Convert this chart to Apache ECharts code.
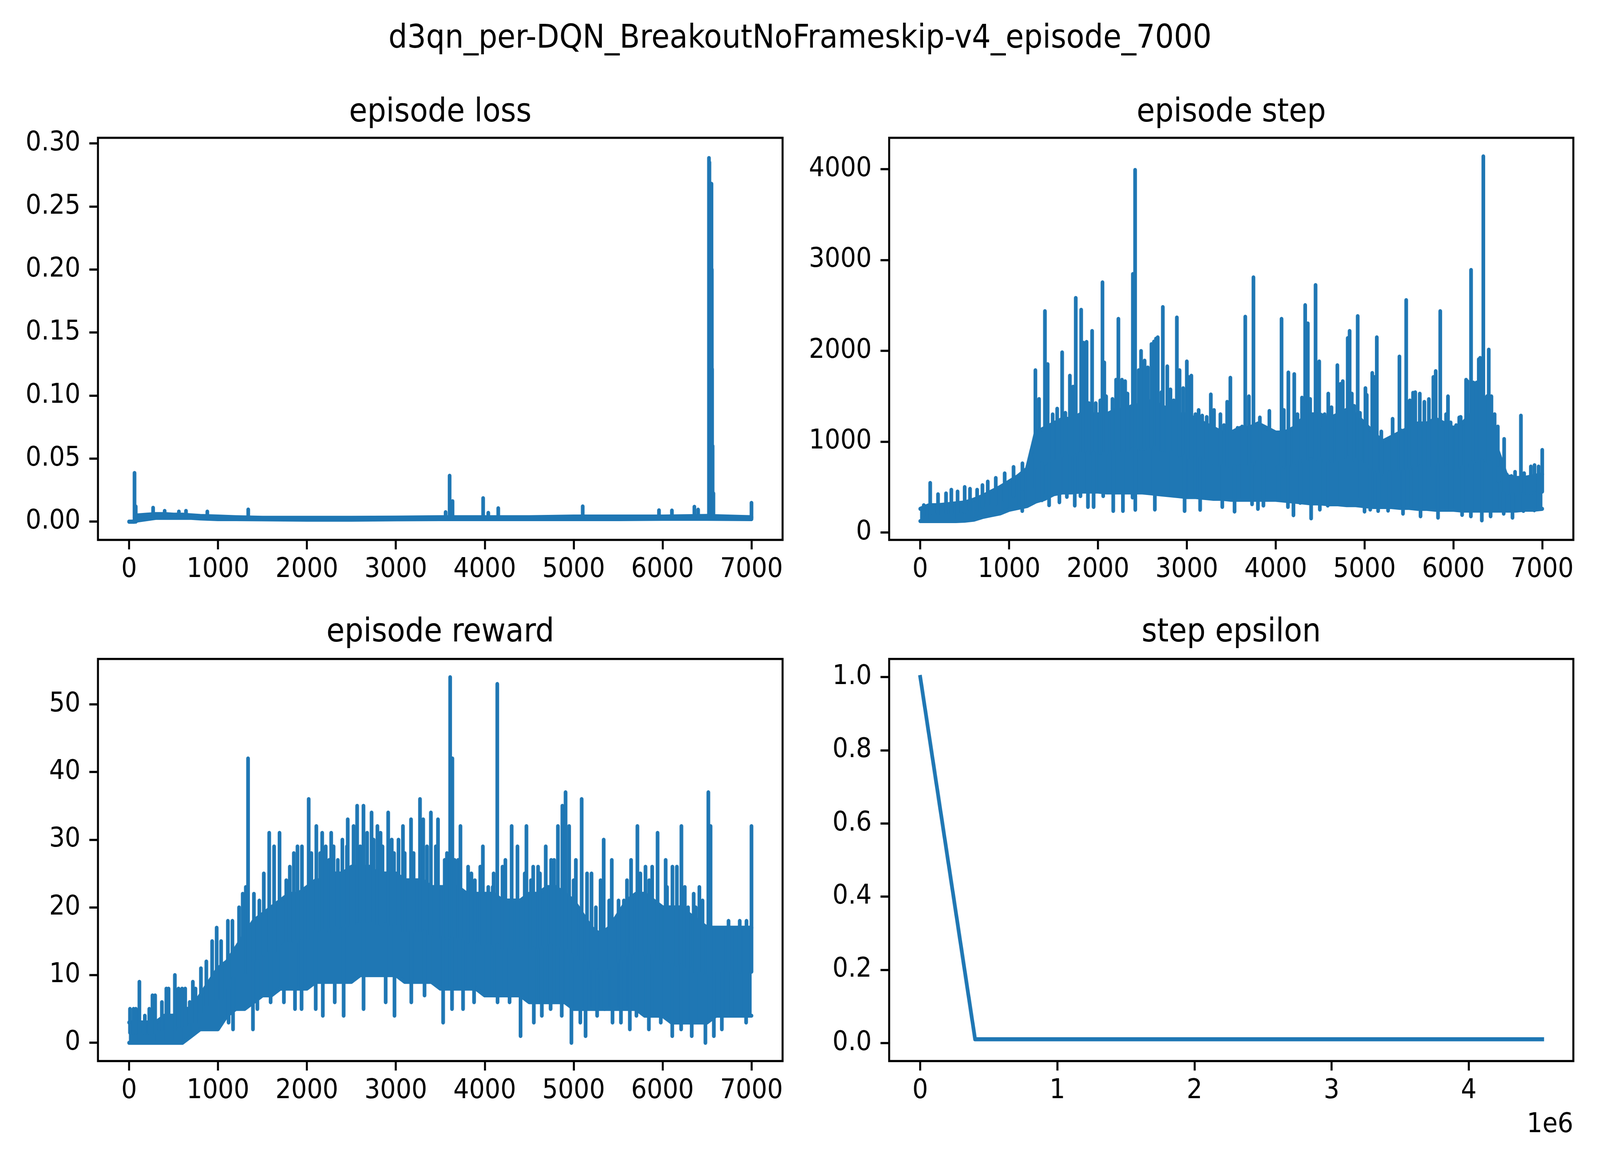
<!DOCTYPE html>
<html>
<head>
<meta charset="utf-8">
<script src="https://cdn.jsdelivr.net/npm/echarts@6/dist/echarts.min.js"></script>
<style>
  html, body { margin: 0; padding: 0; background: #fff; overflow: hidden; }
  #chart { width: 4500px; height: 3000px; transform-origin: 0 0; }
</style>
</head>
<body>
<div id="chart"></div>
<script>
// training curves, values

// episode bins (every 100 episodes, 0..7000)
var binEpisodes = Array.from({ length: 71 }, function (_, i) { return i * 100; });

// episode step: dense band edges per bin
var stepHigh = [260,300,300,310,320,330,360,400,450,500,560,620,700,
  1100,1150,1200,1250,1250,1300,1300,1300,
  1300,1350,1350,1400,1400,1450,1400,1350,1300,1300,
  1250,1200,1150,1100,1100,1150,1150,1200,1150,1100,
  1100,1150,1250,1300,1300,1250,1300,1350,1300,1200,
  1100,1000,1050,1100,1150,1200,1200,1250,1200,1150,
  1200,1300,1350,1300,900,620,600,600,620,640];
var stepLow = [125,125,125,125,125,130,140,170,190,210,250,270,290,
  340,370,420,440,440,450,450,450,
  440,440,440,440,440,430,420,410,400,390,
  390,380,370,370,360,360,360,360,360,360,
  350,340,330,320,320,310,310,300,300,290,
  280,280,280,270,270,260,260,250,250,250,
  240,240,240,240,240,240,240,250,250,260];
// single-episode peaks [episode, steps]
var stepPeaks = [[40,300],[112,545],[200,420],[290,430],[350,470],[420,450],[500,500],[560,480],[640,470],[700,520],
  [760,560],[850,600],[950,650],[1050,720],[1150,760],[1250,820],
  [1296,1785],[1337,1468],[1403,2436],[1434,1852],[1490,1300],[1541,1362],[1597,1982],[1633,1316],[1684,1725],
  [1720,1604],[1750,2581],[1811,2451],[1837,2088],[1872,2097],[1898,1422],[1934,2218],[1975,1422],[2026,1452],
  [2051,2753],[2071,1870],[2092,1498],[2163,1468],[2204,1680],[2230,2351],[2270,1680],[2306,1664],[2332,1528],
  [2383,1392],[2393,2844],[2418,3990],[2459,1785],[2485,1997],[2525,1891],[2561,1816],[2602,2073],[2630,2100],
  [2653,2133],[2673,2148],[2714,1543],[2730,2481],[2780,1828],[2816,1574],[2852,1452],[2888,2366],[2918,1785],
  [2959,1588],[3000,1882],[3020,1710],[3051,1725],[3097,1301],[3133,1347],[3173,1286],[3224,1271],[3270,1519],
  [3306,1347],[3378,1301],[3418,1180],[3454,1437],[3490,1703],[3571,1150],[3622,1165],[3658,2375],[3699,1498],
  [3750,2808],[3822,1265],[3888,1104],[3929,1337],[4015,1029],[4066,2351],[4092,1347],[4143,1761],[4209,1743],
  [4245,1301],[4296,1483],[4332,2502],[4362,2300],[4388,1468],[4449,2723],[4490,1882],[4526,1150],[4551,1301],
  [4592,1528],[4628,1377],[4694,1840],[4730,1634],[4755,1664],[4811,2139],[4832,2218],[4857,1528],[4883,1392],
  [4923,2381],[4949,1316],[5010,1588],[5025,1513],[5087,1755],[5112,1710],[5138,2148],[5189,1110],[5316,1250],
  [5393,1936],[5418,1120],[5469,2557],[5510,1452],[5546,1537],[5571,1543],[5622,1528],[5673,1437],[5724,1467],
  [5775,1710],[5801,1776],[5852,2436],[5918,1301],[5939,1498],[5969,1210],[6031,1180],[6066,1265],[6082,1271],
  [6143,1680],[6158,1664],[6199,2890],[6225,1649],[6260,1649],[6286,1906],[6301,1921],[6337,4140],[6378,1498],
  [6398,2012],[6428,1498],[6464,1301],[6500,1165],[6515,711],[6571,1029],[6602,636],[6653,620],[6694,666],
  [6760,1286],[6796,651],[6872,726],[6913,741],[6959,726],[7000,908]];
// single-episode drops [episode, steps]
var stepDrops = [[1148,237],[1369,355],[1450,300],[1566,333],[1650,392],[1739,296],[1803,400],[1887,281],
  [1951,281],[2059,400],[2172,237],[2281,237],[2389,385],[2420,250],[2640,252],[2823,415],[2975,237],
  [3094,415],[3150,250],[3192,385],[3399,281],[3537,230],[3734,311],[3800,260],[3862,296],[4029,370],
  [4138,281],[4200,190],[4276,326],[4399,155],[4497,252],[4586,296],[4818,415],[4906,385],[5000,230],
  [5064,252],[5153,237],[5265,240],[5286,281],[5433,207],[5557,281],[5630,178],[5827,163],[5926,252],
  [6098,193],[6197,178],[6320,133],[6419,178],[6566,207],[6665,163],[6788,237],[6911,244]];

// episode reward: dense band edges per bin
var rewardHigh = [3,3,3,3,4,4,5,5,7,9,11,12,14,
  16,18,19,20,21,22,22,23,
  24,24,25,25,26,26,26,25,25,25,
  24,24,24,23,23,23,23,22,22,22,
  22,21,21,21,22,22,23,23,22,21,
  19,17,16,17,19,21,22,22,21,20,
  20,20,19,18,17,17,17,17,17,17];
var rewardLow = [0,0,0,0,0,0,0,1,2,2,2,4,5,
  5,6,7,7,8,8,8,8,
  9,9,9,9,9,10,10,10,10,10,
  9,9,9,9,8,8,8,8,8,7,
  7,7,7,7,6,6,6,6,6,5,
  5,5,5,5,5,5,5,4,4,4,
  3,3,3,3,3,4,4,4,4,4];
var rewardPeaks = [[10,5],[50,5],[76,5],[116,9],[177,4],[227,5],[263,7],[293,7],[369,6],[419,8],[444,8],
  [515,10],[556,8],[596,8],[631,8],[682,6],[717,9],[747,8],[808,11],[869,12],[934,15],[985,17],[1035,15],
  [1111,18],[1162,18],[1237,20],[1278,22],[1313,23],[1338,42],[1404,22],[1465,21],[1515,25],[1576,31],
  [1631,29],[1692,31],[1768,24],[1808,26],[1853,28],[1894,29],[1944,29],[2020,36],[2050,28],[2106,32],
  [2150,28],[2172,31],[2212,29],[2250,27],[2273,31],[2300,29],[2348,27],[2399,30],[2450,29],[2459,33],
  [2525,32],[2565,35],[2600,29],[2636,35],[2677,31],[2727,34],[2750,30],[2793,32],[2828,31],[2850,29],
  [2914,34],[2954,30],[2980,28],[3030,30],[3080,32],[3100,28],[3171,33],[3200,28],[3272,36],[3308,33],
  [3350,29],[3394,34],[3450,29],[3474,33],[3550,27],[3575,28],[3611,54],[3636,42],[3661,27],[3700,27],
  [3727,32],[3813,26],[3850,25],[3889,24],[3950,26],[3979,29],[4040,23],[4090,23],[4100,25],[4141,53],
  [4200,26],[4232,27],[4303,32],[4368,29],[4450,25],[4469,32],[4520,24],[4545,26],[4600,26],[4621,25],
  [4686,29],[4747,27],[4780,27],[4823,32],[4873,35],[4909,37],[4949,32],[5000,24],[5025,27],[5090,36],
  [5151,25],[5201,25],[5250,20],[5303,24],[5338,30],[5400,21],[5429,27],[5505,21],[5565,21],[5600,24],
  [5646,27],[5717,32],[5750,25],[5808,26],[5850,24],[5883,26],[5944,31],[6035,27],[6050,23],[6111,26],
  [6161,26],[6212,32],[6250,23],[6287,20],[6350,22],[6373,20],[6414,23],[6450,21],[6515,37],[6540,32],
  [6742,18],[6868,18],[6944,18],[7000,32]];
var rewardDrops = [[1119,3],[1169,2],[1393,2],[1443,5],[1592,6],[1741,6],[1866,5],[1940,5],[2099,5],[2179,4],
  [2313,6],[2413,4],[2637,5],[2886,6],[2985,4],[3174,6],[3323,7],[3532,3],[3632,5],[3756,5],[3880,6],
  [4045,7],[4144,6],[4279,6],[4403,1],[4552,3],[4642,4],[4741,5],[4866,4],[4975,0],[5075,3],[5134,1],
  [5264,4],[5348,5],[5437,3],[5532,3],[5632,2],[5706,4],[5846,2],[5980,3],[6109,1],[6209,2],[6328,1],
  [6482,0],[6577,1],[6667,2],[6776,4],[6940,3]];

// episode loss: band edges (irregular bins) and spikes
var lossEpisodes = [0,55,100,200,300,400,500,600,700,800,1000,1200,1500,2000,2500,3000,3500,4000,4500,5000,5500,6000,6500,7000];
var lossHigh = [0,0,0.005,0.0055,0.006,0.006,0.0055,0.0055,0.005,0.0045,0.004,0.0035,0.003,0.003,0.003,0.0032,0.0035,0.0035,0.0035,0.004,0.004,0.004,0.0045,0.0035];
var lossLow = [0,0,0.001,0.002,0.003,0.003,0.003,0.003,0.003,0.0025,0.002,0.002,0.0018,0.0015,0.0015,0.0018,0.002,0.002,0.002,0.002,0.002,0.0022,0.0022,0.002];
var lossPeaks = [[61,0.0386],[75,0.012],[270,0.011],[400,0.0085],[560,0.008],[640,0.0085],[880,0.008],[1340,0.0096],
  [3560,0.0075],[3605,0.0364],[3638,0.0162],[3982,0.0186],[4040,0.007],[4152,0.0106],[5102,0.0121],[5960,0.009],
  [6105,0.0088],[6358,0.0118],[6400,0.0095],[6522,0.2885],[6527,0.285],[6550,0.268],[6554,0.2],[6557,0.121],
  [6563,0.06],[6572,0.0224],[7000,0.0149]];

// step epsilon: [total steps, epsilon]
var epsilonSteps = [0, 400000, 4536000];
var epsilonValues = [1.0, 0.01, 0.01];

// tick labels
var episodeTicks = [0,1000,2000,3000,4000,5000,6000,7000];
var lossTicks = [0,0.05,0.1,0.15,0.2,0.25,0.3];
var stepTicks = [0,1000,2000,3000,4000];
var rewardTicks = [0,10,20,30,40,50];
var epsilonTicks = [0,0.2,0.4,0.6,0.8,1.0];
var stepCountTicks = [0,1000000,2000000,3000000,4000000];

var BLUE = '#1f77b4';
var LW = 10.4;
var FONT = 'DejaVu Sans';
var TICK_FS = 69.4;
var TITLE_FS = 83.3;

var grids = [
  { left: 275.5, top: 352.7, width: 1925.5, height: 1029.3 },
  { left: 2500.7, top: 352.7, width: 1924.3, height: 1029.3 },
  { left: 275.5, top: 1686.7, width: 1925.5, height: 1029.3 },
  { left: 2500.7, top: 1686.7, width: 1924.3, height: 1029.3 }
];

// the viewport can be smaller than 4500x3000: stretch the figure onto it
var dom = document.getElementById('chart');
var sx = window.innerWidth / 4500, sy = window.innerHeight / 3000;
if (sx > 0 && sy > 0 && (Math.abs(sx - 1) > 0.001 || Math.abs(sy - 1) > 0.001)) {
  dom.style.transform = 'scale(' + sx + ',' + sy + ')';
}

function xAxis(gridIndex, min, max, ticks, fmt) {
  return {
    type: 'value', gridIndex: gridIndex, min: min, max: max,
    axisLine: { show: false, onZero: false }, splitLine: { show: false },
    axisTick: { show: true, inside: false, customValues: ticks, length: 24.3,
      lineStyle: { color: '#000', width: 5.6 } },
    axisLabel: { customValues: ticks, margin: 42, fontSize: TICK_FS, fontFamily: FONT,
      color: '#000', formatter: fmt }
  };
}
function yAxis(gridIndex, min, max, ticks, fmt) {
  return {
    type: 'value', gridIndex: gridIndex, min: min, max: max,
    axisLine: { show: false, onZero: false }, splitLine: { show: false },
    axisTick: { show: true, inside: false, customValues: ticks, length: 24.3,
      lineStyle: { color: '#000', width: 5.6 } },
    axisLabel: { customValues: ticks, margin: 49, fontSize: TICK_FS, fontFamily: FONT,
      color: '#000', formatter: fmt }
  };
}

function nearestIndex(eps, x) {
  var best = 0;
  for (var i = 1; i < eps.length; i++) {
    if (Math.abs(eps[i] - x) < Math.abs(eps[best] - x)) best = i;
  }
  return best;
}

// dense band: filled polygon between bins + thick edge lines
function bandSeries(g, eps, low, high) {
  var fill = {
    type: 'custom', xAxisIndex: g, yAxisIndex: g, silent: true, z: 2,
    data: eps.map(function (e, i) { return [e, low[i], high[i]]; }),
    encode: { x: 0, y: [1, 2] },
    renderItem: function (params, api) {
      var i = params.dataIndex;
      if (i >= eps.length - 1) return null;
      var pts = [
        api.coord([eps[i], low[i]]), api.coord([eps[i + 1], low[i + 1]]),
        api.coord([eps[i + 1], high[i + 1]]), api.coord([eps[i], high[i]])
      ];
      return { type: 'polygon', shape: { points: pts },
        style: { fill: BLUE, stroke: BLUE, lineWidth: 1 } };
    }
  };
  var edge = function (vals) {
    return {
      type: 'line', xAxisIndex: g, yAxisIndex: g, symbol: 'none', silent: true, z: 2,
      data: eps.map(function (e, i) { return [e, vals[i]]; }),
      lineStyle: { color: BLUE, width: LW, cap: 'round', join: 'round' }
    };
  };
  return [fill, edge(low), edge(high)];
}

// vertical strokes from the band middle to a single-episode value
function strokeSeries(g, points, eps, low, high) {
  return {
    type: 'custom', xAxisIndex: g, yAxisIndex: g, silent: true, z: 3,
    data: points, encode: { x: 0, y: 1 },
    renderItem: function (params, api) {
      var ep = api.value(0), v = api.value(1);
      var i = nearestIndex(eps, ep);
      var base = (low[i] + high[i]) / 2;
      var p1 = api.coord([ep, base]);
      var p2 = api.coord([ep, v]);
      return {
        type: 'line',
        shape: { x1: p1[0], y1: p1[1], x2: p2[0], y2: p2[1] },
        style: { stroke: BLUE, lineWidth: LW, lineCap: 'round' }
      };
    }
  };
}

function title(text, x, y, size, align) {
  return {
    type: 'text', x: x, y: y, silent: true,
    style: { text: text, fontSize: size, fontFamily: FONT, fill: '#000',
      align: align || 'center', verticalAlign: 'middle' }
  };
}

var epFmt = function (v) { return String(Math.round(v)); };

var series = []
  .concat(bandSeries(0, lossEpisodes, lossLow, lossHigh))
  .concat([strokeSeries(0, lossPeaks, lossEpisodes, lossLow, lossHigh)])
  .concat(bandSeries(1, binEpisodes, stepLow, stepHigh))
  .concat([strokeSeries(1, stepPeaks, binEpisodes, stepLow, stepHigh),
           strokeSeries(1, stepDrops, binEpisodes, stepLow, stepHigh)])
  .concat(bandSeries(2, binEpisodes, rewardLow, rewardHigh))
  .concat([strokeSeries(2, rewardPeaks, binEpisodes, rewardLow, rewardHigh),
           strokeSeries(2, rewardDrops, binEpisodes, rewardLow, rewardHigh)])
  .concat([{
    type: 'line', xAxisIndex: 3, yAxisIndex: 3, symbol: 'none', silent: true,
    data: epsilonSteps.map(function (s, i) { return [s, epsilonValues[i]]; }),
    lineStyle: { color: BLUE, width: LW, cap: 'square', join: 'round' }
  }]);

var chart = echarts.init(dom, null, { renderer: 'canvas', width: 4500, height: 3000 });
chart.setOption({
  animation: false,
  backgroundColor: '#fff',
  grid: grids.map(function (g) {
    return { left: g.left, top: g.top, width: g.width, height: g.height, containLabel: false,
      outerBoundsMode: 'none', show: true, borderColor: '#000', borderWidth: 5.6,
      backgroundColor: 'transparent' };
  }),
  xAxis: [
    xAxis(0, -350, 7350, episodeTicks, epFmt),
    xAxis(1, -350, 7350, episodeTicks, epFmt),
    xAxis(2, -350, 7350, episodeTicks, epFmt),
    xAxis(3, -226800, 4762800, stepCountTicks, function (v) { return String(Math.round(v / 1e6)); })
  ],
  yAxis: [
    yAxis(0, -0.0145, 0.3045, lossTicks, function (v) { return v.toFixed(2); }),
    yAxis(1, -82, 4344, stepTicks, epFmt),
    yAxis(2, -2.7, 56.7, rewardTicks, epFmt),
    yAxis(3, -0.0495, 1.0495, epsilonTicks, function (v) { return v.toFixed(1); })
  ],
  graphic: [
    title('d3qn_per-DQN_BreakoutNoFrameskip-v4_episode_7000', 2250, 100, TITLE_FS),
    title('episode loss', 1238.3, 289, TITLE_FS),
    title('episode step', 3462.9, 289, TITLE_FS),
    title('episode reward', 1238.3, 1620, TITLE_FS),
    title('step epsilon', 3462.9, 1620, TITLE_FS),
    title('1e6', 4425, 2880, TICK_FS, 'right')
  ],
  series: series
});
</script>
</body>
</html>
